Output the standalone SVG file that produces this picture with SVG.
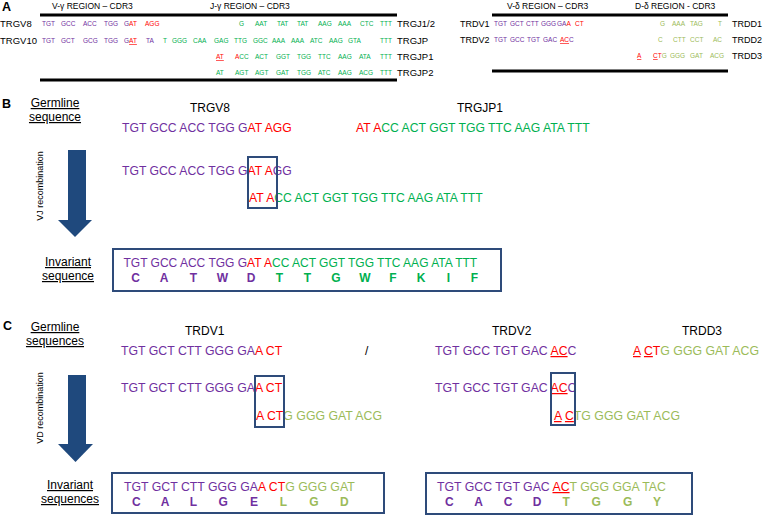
<svg xmlns="http://www.w3.org/2000/svg" width="763" height="516" viewBox="0 0 763 516">
<style>
text{font-family:"Liberation Sans",Arial,sans-serif;fill:#000}
.p{fill:#7030a0}.r{fill:#ff0000}.g{fill:#00b050}.o{fill:#9bbb59}.k{fill:#000}
.u{text-decoration:underline}
.sa{font-size:6.5px}.lab{font-size:9.5px}.labr{font-size:9px}.hd{font-size:8.5px}
.pl{font-size:12.5px;font-weight:bold}
.t12{font-size:12px}.sb{font-size:12.2px}.sc{font-size:12.3px}.bx{font-size:12px}
.aa{font-size:12px;font-weight:bold;text-anchor:middle}
.rot{font-size:9px;text-anchor:middle}
.mid{text-anchor:middle}
.bar{stroke:#000;stroke-width:3}
.box{fill:none;stroke:#2e4b7a;stroke-width:2}
.arrow{fill:#1f497d}
</style>

<g id="panelA">
  <text x="2" y="10.5" class="pl">A</text>
  <g id="A-left">
    <text x="52" y="9" class="hd">V-γ REGION – CDR3</text>
    <text x="210" y="9" class="hd">J-γ REGION – CDR3</text>
    <line x1="40" y1="15" x2="397" y2="15" class="bar"/>
    <line x1="40" y1="80" x2="397" y2="80" class="bar"/>
    <text x="0" y="27" class="lab">TRGV8</text>
    <text x="0" y="44" class="lab">TRGV10</text>
    <text x="397" y="27" class="lab">TRGJ1/2</text>
    <text x="397" y="44" class="lab">TRGJP</text>
    <text x="397" y="60" class="lab">TRGJP1</text>
    <text x="397" y="76" class="lab">TRGJP2</text>
    <text y="26" class="sa"><tspan x="42" class="p">TGT</tspan><tspan x="61" class="p">GCC</tspan><tspan x="83" class="p">ACC</tspan><tspan x="104" class="p">TGG</tspan><tspan x="124" class="p">G</tspan><tspan class="r">AT</tspan><tspan x="145" class="r">AGG</tspan><tspan x="239" class="g">G</tspan><tspan x="255" class="g">AAT</tspan><tspan x="277" class="g">TAT</tspan><tspan x="297" class="g">TAT</tspan><tspan x="318" class="g">AAG</tspan><tspan x="338" class="g">AAA</tspan><tspan x="360" class="g">CTC</tspan><tspan x="380" class="g">TTT</tspan></text>
    <text y="43" class="sa"><tspan x="42" class="p">TGT</tspan><tspan x="61" class="p">GCT</tspan><tspan x="83" class="p">GCG</tspan><tspan x="104" class="p">TGG</tspan><tspan x="124" class="p">G</tspan><tspan class="r u">AT</tspan><tspan x="146" class="p">TA</tspan><tspan x="163" class="g">T</tspan><tspan x="172" class="g">GGG</tspan><tspan x="193" class="g">CAA</tspan><tspan x="214" class="g">GAG</tspan><tspan x="234" class="g">TTG</tspan><tspan x="253" class="g">GGC</tspan><tspan x="272" class="g">AAA</tspan><tspan x="291" class="g">AAA</tspan><tspan x="310" class="g">ATC</tspan><tspan x="329" class="g">AAG</tspan><tspan x="348" class="g">GTA</tspan><tspan x="380" class="g">TTT</tspan></text>
    <text y="59" class="sa"><tspan x="216" class="r u">AT</tspan><tspan x="235" class="r">A</tspan><tspan class="g">CC</tspan><tspan x="255" class="g">ACT</tspan><tspan x="276" class="g">GGT</tspan><tspan x="297" class="g">TGG</tspan><tspan x="318" class="g">TTC</tspan><tspan x="338" class="g">AAG</tspan><tspan x="359" class="g">ATA</tspan><tspan x="380" class="g">TTT</tspan></text>
    <text y="75" class="sa"><tspan x="216" class="g">AT</tspan><tspan x="235" class="g">AGT</tspan><tspan x="255" class="g">AGT</tspan><tspan x="276" class="g">GAT</tspan><tspan x="297" class="g">TGG</tspan><tspan x="318" class="g">ATC</tspan><tspan x="338" class="g">AAG</tspan><tspan x="359" class="g">ACG</tspan><tspan x="380" class="g">TTT</tspan></text>
  </g>
  <g id="A-right">
    <text x="507" y="9" class="hd">V-δ REGION – CDR3</text>
    <text x="635" y="9" class="hd">D-δ REGION - CDR3</text>
    <line x1="492" y1="15" x2="728" y2="15" class="bar"/>
    <line x1="492" y1="71" x2="728" y2="71" class="bar"/>
    <text x="460" y="27" class="labr">TRDV1</text>
    <text x="460" y="43" class="labr">TRDV2</text>
    <text x="732" y="27" class="labr">TRDD1</text>
    <text x="732" y="43" class="labr">TRDD2</text>
    <text x="732" y="59" class="labr">TRDD3</text>
    <text y="26" class="sa"><tspan x="494" class="p">TGT</tspan><tspan x="510" class="p">GCT</tspan><tspan x="526" class="p">CTT</tspan><tspan x="541" class="p">GGG</tspan><tspan x="557" class="p">GA</tspan><tspan class="r">A</tspan><tspan x="575" class="r">CT</tspan><tspan x="660" class="o">G</tspan><tspan x="672" class="o">AAA</tspan><tspan x="690" class="o">TAG</tspan><tspan x="718" class="o">T</tspan></text>
    <text y="42" class="sa"><tspan x="494" class="p">TGT</tspan><tspan x="510" class="p">GCC</tspan><tspan x="527" class="p">TGT</tspan><tspan x="543" class="p">GAC</tspan><tspan x="560" class="r u">AC</tspan><tspan class="p">C</tspan><tspan x="658" class="o">C</tspan><tspan x="673" class="o">CTT</tspan><tspan x="690" class="o">CCT</tspan><tspan x="713" class="o">AC</tspan></text>
    <text y="58" class="sa"><tspan x="637" class="r u">A</tspan><tspan x="653" class="r u">C</tspan><tspan class="r">T</tspan><tspan class="o">G</tspan><tspan x="670" class="o">GGG</tspan><tspan x="690" class="o">GAT</tspan><tspan x="710" class="o">ACG</tspan></text>
  </g>
</g>

<g id="panelB">
  <text x="2" y="108" class="pl">B</text>
  <g id="B-germline-label">
    <text x="55" y="107" class="t12 mid u">Germline</text>
    <text x="55" y="121" class="t12 mid u">sequence</text>
  </g>
  <g id="B-TRGV8">
    <text x="190" y="112" class="t12">TRGV8</text>
    <text x="122" y="132" class="sb"><tspan class="p">TGT GCC ACC TGG G</tspan><tspan class="r">AT AGG</tspan></text>
  </g>
  <g id="B-TRGJP1">
    <text x="457" y="112" class="t12">TRGJP1</text>
    <text x="356" y="132" class="sb"><tspan class="r">AT A</tspan><tspan class="g">CC ACT GGT TGG TTC AAG ATA TTT</tspan></text>
  </g>
  <g id="B-recombination">
    <text x="122" y="175" class="sb"><tspan class="p">TGT GCC ACC TGG G</tspan><tspan class="r">AT A</tspan><tspan class="p">GG</tspan></text>
    <text x="249" y="202" class="sb"><tspan class="r">AT A</tspan><tspan class="g">CC ACT GGT TGG TTC AAG ATA TTT</tspan></text>
    <rect x="248" y="157" width="29" height="51" class="box"/>
  </g>
  <g id="B-invariant">
    <text x="68" y="266" class="t12 mid u">Invariant</text>
    <text x="68" y="280" class="t12 mid u">sequence</text>
    <rect x="113" y="249" width="388" height="42" class="box"/>
    <text x="123.5" y="267" class="bx"><tspan class="p">TGT GCC ACC TGG G</tspan><tspan class="r">AT A</tspan><tspan class="g">CC ACT GGT TGG TTC AAG ATA TTT</tspan></text>
    <text y="282" class="aa"><tspan x="135.5" class="p">C</tspan><tspan x="164" class="p">A</tspan><tspan x="193.5" class="p">T</tspan><tspan x="222.5" class="p">W</tspan><tspan x="251" class="p">D</tspan><tspan x="279.5" class="g">T</tspan><tspan x="307.5" class="g">T</tspan><tspan x="336" class="g">G</tspan><tspan x="365" class="g">W</tspan><tspan x="393" class="g">F</tspan><tspan x="421" class="g">K</tspan><tspan x="448.5" class="g">I</tspan><tspan x="474.5" class="g">F</tspan></text>
  </g>
</g>

<g id="panelC">
  <text x="3" y="330" class="pl">C</text>
  <g id="C-germline-label">
    <text x="55" y="331" class="t12 mid u">Germline</text>
    <text x="55" y="345" class="t12 mid u">sequences</text>
  </g>
  <g id="C-TRDV1">
    <text x="185" y="335" class="t12">TRDV1</text>
    <text x="121" y="355" class="sc"><tspan class="p">TGT GCT CTT GGG GA</tspan><tspan class="r">A CT</tspan></text>
  </g>
  <text x="365" y="355" class="t12">/</text>
  <g id="C-TRDV2">
    <text x="492" y="335" class="t12">TRDV2</text>
    <text x="435" y="355" class="sc"><tspan class="p">TGT GCC TGT GAC </tspan><tspan class="r u">AC</tspan><tspan class="p">C</tspan></text>
  </g>
  <g id="C-TRDD3">
    <text x="682" y="335" class="t12">TRDD3</text>
    <text x="633" y="355" class="sc"><tspan class="r u">A</tspan><tspan class="r"> </tspan><tspan class="r u">C</tspan><tspan class="r">T</tspan><tspan class="o">G GGG GAT ACG</tspan></text>
  </g>
  <g id="C-recombination-1">
    <text x="121" y="392" class="sc"><tspan class="p">TGT GCT CTT GGG GA</tspan><tspan class="r">A CT</tspan></text>
    <text x="256" y="420" class="sc"><tspan class="r">A CT</tspan><tspan class="o">G GGG GAT ACG</tspan></text>
    <rect x="255" y="376" width="29" height="51" class="box"/>
  </g>
  <g id="C-recombination-2">
    <text x="435" y="392" class="sc"><tspan class="p">TGT GCC TGT GAC </tspan><tspan class="r u">AC</tspan><tspan class="p">C</tspan></text>
    <text x="554" y="420" class="sc"><tspan class="r u">A</tspan><tspan class="r"> </tspan><tspan class="r u">C</tspan><tspan class="o">TG GGG GAT ACG</tspan></text>
    <rect x="551" y="373" width="24" height="52" class="box"/>
  </g>
  <g id="C-invariant-label">
    <text x="70" y="489" class="t12 mid u">Invariant</text>
    <text x="70" y="503" class="t12 mid u">sequences</text>
  </g>
  <g id="C-invariant-1">
    <rect x="112" y="473" width="272" height="40" class="box"/>
    <text x="124" y="491" class="sc"><tspan class="p">TGT GCT CTT GGG GA</tspan><tspan class="r">A CT</tspan><tspan class="o">G GGG GAT</tspan></text>
    <text y="506" class="aa"><tspan x="136.3" class="p">C</tspan><tspan x="165" class="p">A</tspan><tspan x="193.4" class="p">L</tspan><tspan x="223.1" class="p">G</tspan><tspan x="253.9" class="p">E</tspan><tspan x="283.3" class="o">L</tspan><tspan x="314" class="o">G</tspan><tspan x="344.4" class="o">D</tspan></text>
  </g>
  <g id="C-invariant-2">
    <rect x="426" y="473" width="266" height="41" class="box"/>
    <text x="437" y="491" class="sc"><tspan class="p">TGT GCC TGT GAC </tspan><tspan class="r u">AC</tspan><tspan class="o">T GGG GGA TAC</tspan></text>
    <text y="506" class="aa"><tspan x="449.3" class="p">C</tspan><tspan x="478.7" class="p">A</tspan><tspan x="508.1" class="p">C</tspan><tspan x="537.1" class="p">D</tspan><tspan x="566.2" class="o">T</tspan><tspan x="596.2" class="o">G</tspan><tspan x="627.7" class="o">G</tspan><tspan x="657.1" class="o">Y</tspan></text>
  </g>
</g>

<g id="connectors">
  <g id="arrow-VJ">
    <rect x="68" y="150" width="18" height="71" class="arrow"/>
    <polygon points="58,220 92,220 75,237" class="arrow"/>
    <text transform="translate(43,186) rotate(-90)" class="rot">VJ recombination</text>
  </g>
  <g id="arrow-VD">
    <rect x="68" y="375" width="18" height="70" class="arrow"/>
    <polygon points="58,444 93,444 75.5,462" class="arrow"/>
    <text transform="translate(43,408) rotate(-90)" class="rot">VD recombination</text>
  </g>
</g>
</svg>
